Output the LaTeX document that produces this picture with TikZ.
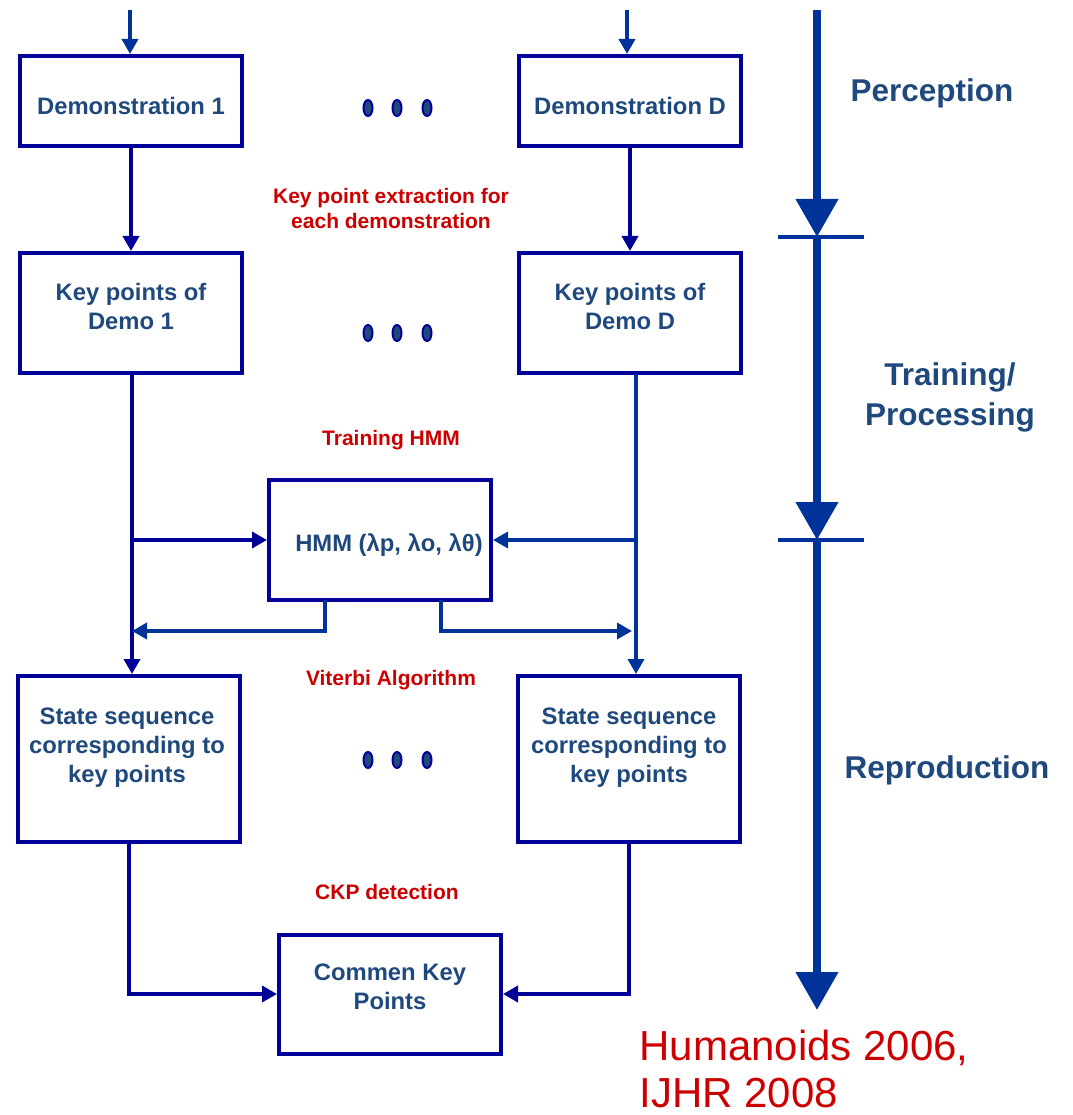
\documentclass[tikz,border=0pt]{standalone}
\usepackage{fontspec}
\setmainfont{Liberation Sans}
\usetikzlibrary{arrows.meta}
\definecolor{navy}{HTML}{000099}
\definecolor{royal}{HTML}{003399}
\definecolor{slate}{HTML}{1F497D}
\definecolor{alert}{HTML}{CC0000}
\begin{document}
\begin{tikzpicture}[x=1pt,y=-1pt,
  box/.style={draw=navy, line width=4pt, minimum width=222pt, inner sep=0pt},
  boxtext/.style={text=slate, align=center, inner sep=0pt,
    font=\fontsize{23.8}{29}\selectfont\bfseries},
  arr/.style={draw=navy, line width=3.6pt, -{Triangle[width=16pt,length=15pt]}},
  arrb/.style={arr, draw=royal},
  note/.style={text=alert, align=center, font=\fontsize{21}{25}\selectfont\bfseries},
  phase/.style={text=slate, align=center, font=\fontsize{31.5}{40}\selectfont\bfseries},
  bigarr/.style={draw=royal, line width=7.5pt, -{Triangle[width=41pt,length=38pt]}},
  tick/.style={draw=royal, line width=4pt},
  dotmark/.style={draw=navy, fill=slate, line width=2pt},
  cite/.style={text=alert, anchor=base west, font=\fontsize{42}{50}\selectfont}
]
\useasboundingbox (0,0) rectangle (1072,1115);

% boxes, each with its caption placed as a centre label
\node[box, minimum height=90pt,
  label={[boxtext, yshift=-5pt]center:Demonstration 1}] (demo1) at (131,101) {};
\node[box, minimum height=90pt,
  label={[boxtext, yshift=-5pt]center:Demonstration D}] (demoD) at (630,101) {};
\node[box, minimum height=120pt,
  label={[boxtext, yshift=7pt]center:Key points of\\Demo 1}] (kp1) at (131,313) {};
\node[box, minimum height=120pt,
  label={[boxtext, yshift=7pt]center:Key points of\\Demo D}] (kpD) at (630,313) {};
\node[box, minimum height=120pt,
  label={[boxtext, yshift=-5pt, xshift=9pt]center:HMM (λp, λo, λθ)}] (hmm) at (380,540) {};
\node[box, minimum height=166pt,
  label={[boxtext, yshift=11pt, xshift=-2pt]center:State sequence\\corresponding to\\key points}] (ss1) at (129,759) {};
\node[box, minimum height=166pt,
  label={[boxtext, yshift=11pt]center:State sequence\\corresponding to\\key points}] (ssD) at (629,759) {};
\node[box, minimum height=119pt,
  label={[boxtext, yshift=7.5pt]center:Commen Key\\Points}] (ckp) at (390,994) {};

% ellipsis marks between the columns
\foreach \y in {108,333,760}
  \foreach \x in {368,397,427}
    \draw[dotmark] (\x,\y) ellipse [x radius=4.5pt, y radius=8pt];

% step labels
\node[note] (lblkp)  at (391,208) {Key point extraction for\\each demonstration};
\node[note] (lblhmm) at (391,440) {Training HMM};
\node[note] (lblvit) at (391,680) {Viterbi Algorithm};
\node[note] (lblckp) at (387,892) {CKP detection};

% inputs
\coordinate (in1) at (130,10);
\coordinate (inD) at (627,10);
\draw[arrb] (in1) -- (in1 |- demo1.north);
\draw[arrb] (inD) -- (inD |- demoD.north);

% key point extraction
\draw[arr] (demo1.south) -- (kp1.north);
\draw[arr] (demoD.south) -- (kpD.north);

% trunks down to the state sequences
\coordinate (t1) at (132,374);
\coordinate (tD) at (636,374);
\draw[arr]  (t1) -- (t1 |- ss1.north);
\draw[arrb] (tD) -- (tD |- ss1.north);

% training branches into the HMM
\draw[arr]  (t1 |- hmm.west) -- (hmm.west);
\draw[arrb] (tD |- hmm.east) -- (hmm.east);

% HMM feeding the Viterbi step
\coordinate (hl) at (325,600);
\coordinate (hr) at (441,600);
\draw[arrb] (hl) -- (325,631) -- (t1 |- 0,631);
\draw[arrb] (hr) -- (441,631) -- ([xshift=-4pt]tD |- 0,631);

% common key point detection
\draw[arr] (ss1.south) |- (ckp.west);
\draw[arr] (ssD.south) |- (ckp.east);

% phase axis
\coordinate (p0) at (817,10);
\coordinate (p1) at (817,237);
\coordinate (p2) at (817,540);
\coordinate (p3) at (817,1010);
\draw[bigarr] (p0) -- (p1);
\draw[bigarr] (p1) -- (p2);
\draw[bigarr] (p2) -- (p3);
\draw[tick] (778,237) -- (864,237);
\draw[tick] (778,540) -- (864,540);

\node[phase] (perc) at (932,93)  {Perception};
\node[phase] (train) at (950,397) {Training/\\Processing};
\node[phase] (repr) at (947,770) {Reproduction};

% reference
\node[cite] (c1) at (636,1060) {Humanoids 2006,};
\node[cite] (c2) at (636,1107) {IJHR 2008};
\end{tikzpicture}
\end{document}
